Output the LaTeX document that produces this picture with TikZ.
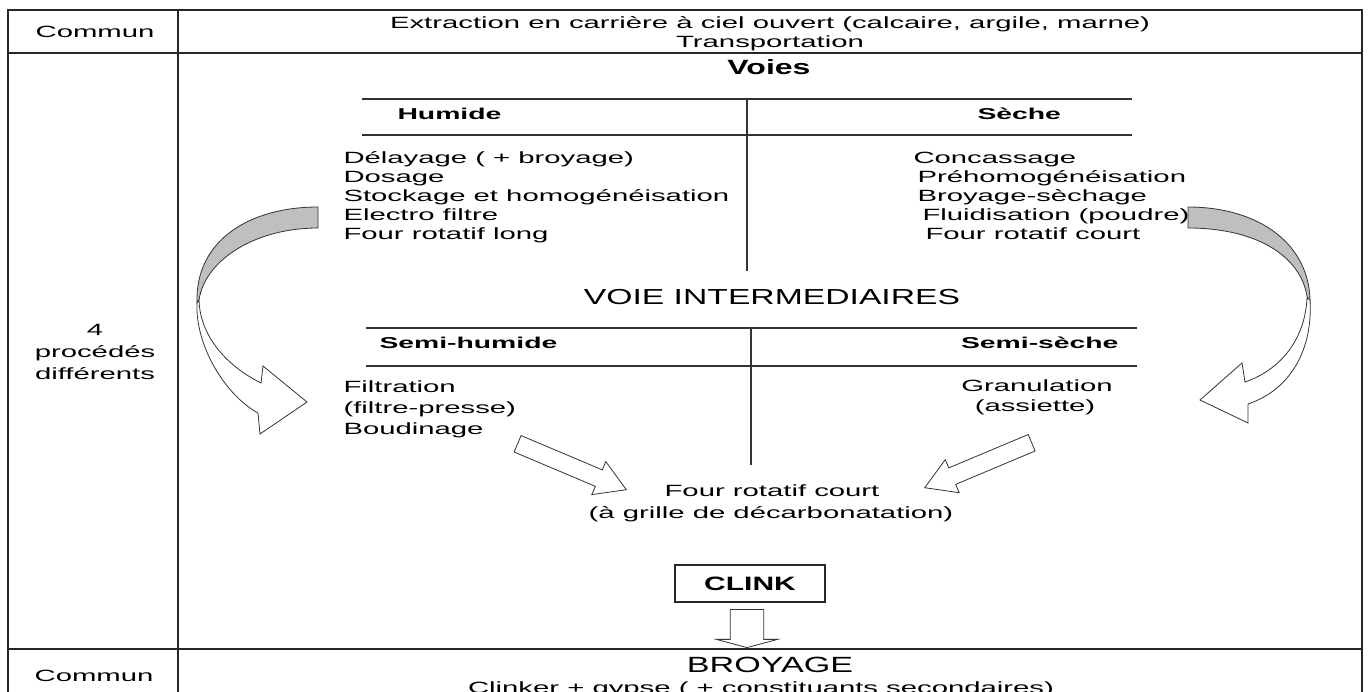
\documentclass[tikz,border=0pt]{standalone}
\usepackage{fontspec}
\setmainfont{Liberation Sans}
\newfontfamily\listfont{Liberation Sans}[FakeStretch=1.8]
\newfontfamily\titlefont{Liberation Sans}[FakeStretch=1.55]
\usetikzlibrary{shapes.arrows}

\tikzset{every picture/.style={line width=0.75pt}}
\tikzset{
  txt/.style={inner sep=0pt, font={\listfont\fontsize{12.2}{14.3}\selectfont}},
  headtxt/.style={inner sep=0pt, font={\listfont\bfseries\fontsize{11.8}{14}\selectfont}},
  tabrule/.style={line width=1.1pt, draw=black!85},
  sublink/.style={line width=1pt, draw=black!80},
  blockarrow/.style={draw=black!80, fill=white, single arrow, inner xsep=0pt, line width=0.6pt},
  ribbon/.style={draw=black!80, line width=0.6pt},
}

\begin{document}
\begin{tikzpicture}[x=0.75pt,y=0.75pt,yscale=-1,xscale=1]
\useasboundingbox (0,0) rectangle (1368,692);
\clip (0,0) rectangle (1368,692);
\fill[white] (0,0) rectangle (1368,692);

% Table
\draw[tabrule] (8,10) rectangle (1362,720);
\draw[tabrule] (178,10) -- (178,720);
\draw[tabrule] (8,53) -- (1362,53);
\draw[tabrule] (8,649) -- (1362,649);

% Text Node
\node[txt, anchor=base] (commun1) at (95,38) {Commun};
\node[txt, anchor=base] (extraction) at (770,29) {Extraction en carrière à ciel ouvert (calcaire, argile, marne)};
\node[txt, anchor=base] (transport) at (770,48) {Transportation};
% Text Node
\node[txt, anchor=base] (quatre) at (95,335) {4};
\node[txt, anchor=base] (procedes) at (95,357) {procédés};
\node[txt, anchor=base] (differents) at (95,379) {différents};

% Voies
\node[inner sep=0pt, anchor=base, font={\titlefont\bfseries\fontsize{15.5}{18}\selectfont}] (voies) at (769,75) {Voies};
\draw[sublink] (362,99) -- (1132,99);
\draw[sublink] (362,135) -- (1132,135);
\draw[sublink] (747,99) -- (747,271);
\node[headtxt, anchor=base west] (humide) at (397,119) {Humide};
\node[headtxt, anchor=base west] (seche) at (977,119) {Sèche};

% Text Node
\node[txt, anchor=base west] (delayage) at (343,163) {Délayage ( + broyage)};
\node[txt, anchor=base west] (dosage) at (343,182) {Dosage};
\node[txt, anchor=base west] (stockage) at (343,201) {Stockage et homogénéisation};
\node[txt, anchor=base west] (electro) at (343,220) {Electro filtre};
\node[txt, anchor=base west] (fourlong) at (343,239) {Four rotatif long};
% Text Node
\node[txt, anchor=base west] (concassage) at (913,163) {Concassage};
\node[txt, anchor=base west] (prehomo) at (917,182) {Préhomogénéisation};
\node[txt, anchor=base west] (sechage) at (917,201) {Broyage-sèchage};
\node[txt, anchor=base west] (fluid) at (922,220) {Fluidisation (poudre)};
\node[txt, anchor=base west] (fourcourt) at (925,239) {Four rotatif court};

% Voie intermediaires
\node[inner sep=0pt, anchor=base, font={\titlefont\fontsize{16.3}{19}\selectfont}] (intermed) at (772,304) {VOIE INTERMEDIAIRES};
\draw[sublink] (366,328) -- (1137,328);
\draw[sublink] (366,366) -- (1137,366);
\draw[sublink] (751,328) -- (751,465);
\node[headtxt, anchor=base west] (semihumide) at (379,348) {Semi-humide};
\node[headtxt, anchor=base east] (semiseche) at (1119,348) {Semi-sèche};

% Text Node
\node[txt, anchor=base west] (filtration) at (343,392) {Filtration};
\node[txt, anchor=base west] (presse) at (343,413) {(filtre-presse)};
\node[txt, anchor=base west] (boudinage) at (343,434) {Boudinage};
\node[txt, anchor=base] (granulation) at (1037,391) {Granulation};
\node[txt, anchor=base] (assiette) at (1035,411) {(assiette)};
\node[txt, anchor=base] (fourgrille) at (772,496) {Four rotatif court};
\node[txt, anchor=base] (grille) at (771,518) {(à grille de décarbonatation)};

% Clinker box
\node[draw=black!85, line width=0.9pt, minimum width=112.5pt, minimum height=27.75pt, inner sep=0pt,
      font={\titlefont\bfseries\fontsize{14.5}{18}\selectfont}] (clink) at (750,583.5) {CLINK};

% Bottom row
\node[txt, anchor=base] (commun2) at (94,681) {Commun};
\node[inner sep=0pt, anchor=base, font={\titlefont\fontsize{16.5}{19}\selectfont}] (broyage) at (770,672) {BROYAGE};
\node[txt, anchor=base] (clinker) at (761,693) {Clinker + gypse ( + constituants secondaires)};

% Block arrows
\node[blockarrow, anchor=tip, rotate=-22.9, minimum height=88.5pt, inner ysep=6.4pt,
      single arrow head extend=6.75pt, single arrow tip angle=62] (toleft) at (627,490) {};
\node[blockarrow, anchor=tip, rotate=202.8, minimum height=87pt, inner ysep=6.4pt,
      single arrow head extend=6.75pt, single arrow tip angle=62] (toright) at (924,488) {};
\node[blockarrow, anchor=tip, rotate=-90, minimum height=28.5pt, inner ysep=12.2pt,
      single arrow head extend=10.5pt, single arrow tip angle=150] (todown) at (747,648) {};

% Curved arrow, humide side
\draw[ribbon, fill=black!25] (318,207) .. controls (250,207) and (195,240) .. (197,303)
  -- (199,300) .. controls (205,260) and (255,228) .. (318,228) -- cycle;
\draw[ribbon, fill=white] (197,303) .. controls (195,345) and (225,395) .. (258,413)
  -- (260,434) -- (307,402) -- (263,366) -- (261,383)
  .. controls (225,365) and (200,335) .. (199,300) -- cycle;

% Curved arrow, seche side
\draw[ribbon, fill=black!25] (1188,207) .. controls (1260,207) and (1310,245) .. (1310,302)
  -- (1307,296) .. controls (1300,255) and (1255,228) .. (1188,228) -- cycle;
\draw[ribbon, fill=white] (1310,300) .. controls (1313,350) and (1290,390) .. (1248,404)
  -- (1248,423) -- (1200,400) -- (1242,363) -- (1245,382)
  .. controls (1280,370) and (1305,340) .. (1307,298) -- cycle;

\end{tikzpicture}
\end{document}
